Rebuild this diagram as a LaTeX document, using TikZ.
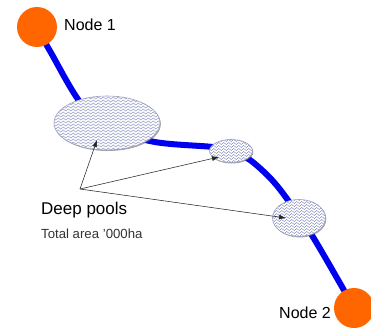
\documentclass[tikz,border=0pt]{standalone}
\usepackage{fontspec}
\setmainfont{Liberation Sans}
\usetikzlibrary{shapes.geometric,decorations.pathmorphing,calc,arrows.meta,shadows}
\definecolor{riverblue}{HTML}{0000F0}
\definecolor{nodeorange}{HTML}{FF6600}
\definecolor{zigcol}{HTML}{8288BC}
\definecolor{rimcol}{HTML}{9A9EC0}
\tikzset{
  endpoint/.style={circle, fill=nodeorange, minimum size=40pt, inner sep=0pt},
  river/.style={riverblue, line width=6pt},
  pool/.style={ellipse, draw=rimcol, line width=0.6pt, fill=white, inner sep=0pt,
    drop shadow={shadow xshift=0.8pt, shadow yshift=-1pt, opacity=0.6, fill=black!60},
    path picture={
      \foreach \k in {0,...,20}{
        \draw[zigcol, line width=0.45pt, decorate,
              decoration={zigzag, segment length=5pt, amplitude=1pt}]
          ([yshift=\k*3pt+1pt, xshift=-2pt]path picture bounding box.south west) --
          ([yshift=\k*3pt+1pt, xshift=2pt]path picture bounding box.south east);
      }
    }},
  pointer/.style={black!85, line width=0.55pt, -{Latex[length=7pt,width=5pt]}},
  lbl/.style={inner sep=0pt, font=\fontsize{16}{19}\selectfont},
}
\begin{document}
\begin{tikzpicture}[x=1pt,y=-1pt]
\useasboundingbox (0,0) rectangle (371,329);
\clip (0,0) rectangle (371,329);
% river
\draw[river] plot[smooth, tension=0.55] coordinates {(37,28) (50,51) (80,102) (110,128) (155,142) (213,147) (231,151) (250,160) (272,180) (290,203) (313,237) (345,292) (354,308)};
% end nodes
\node[endpoint] (n1) at (37,27) {};
\node[endpoint] (n2) at (354,308) {};
% pools
\node[pool, minimum width=106pt, minimum height=54pt] (p1) at (107,123) {};
\node[pool, minimum width=43pt, minimum height=23pt] (p2) at (231,151) {};
\node[pool, minimum width=53pt, minimum height=37pt] (p3) at (299,218) {};
% labels
\node[lbl, anchor=west] (l1) at (64,25) {Node 1};
\node[lbl, anchor=east] (l2) at (331,313) {Node 2};
\node[inner sep=0pt, anchor=west, font=\fontsize{17}{20}\selectfont] (dp) at (41,210) {Deep pools};
\node[inner sep=0pt, anchor=west, text=black!80, font=\fontsize{13.2}{16}\selectfont] (ta) at (41,234) {Total area '000ha};
% pointers
\coordinate (src) at (80,189);
\draw[pointer] (src) -- ($(p1.center)+(-10,17)$);
\draw[pointer] (src) -- ($(p2.center)+(-12,6)$);
\draw[pointer] (src) -- ($(p3.center)+(-13,0)$);
\end{tikzpicture}
\end{document}
